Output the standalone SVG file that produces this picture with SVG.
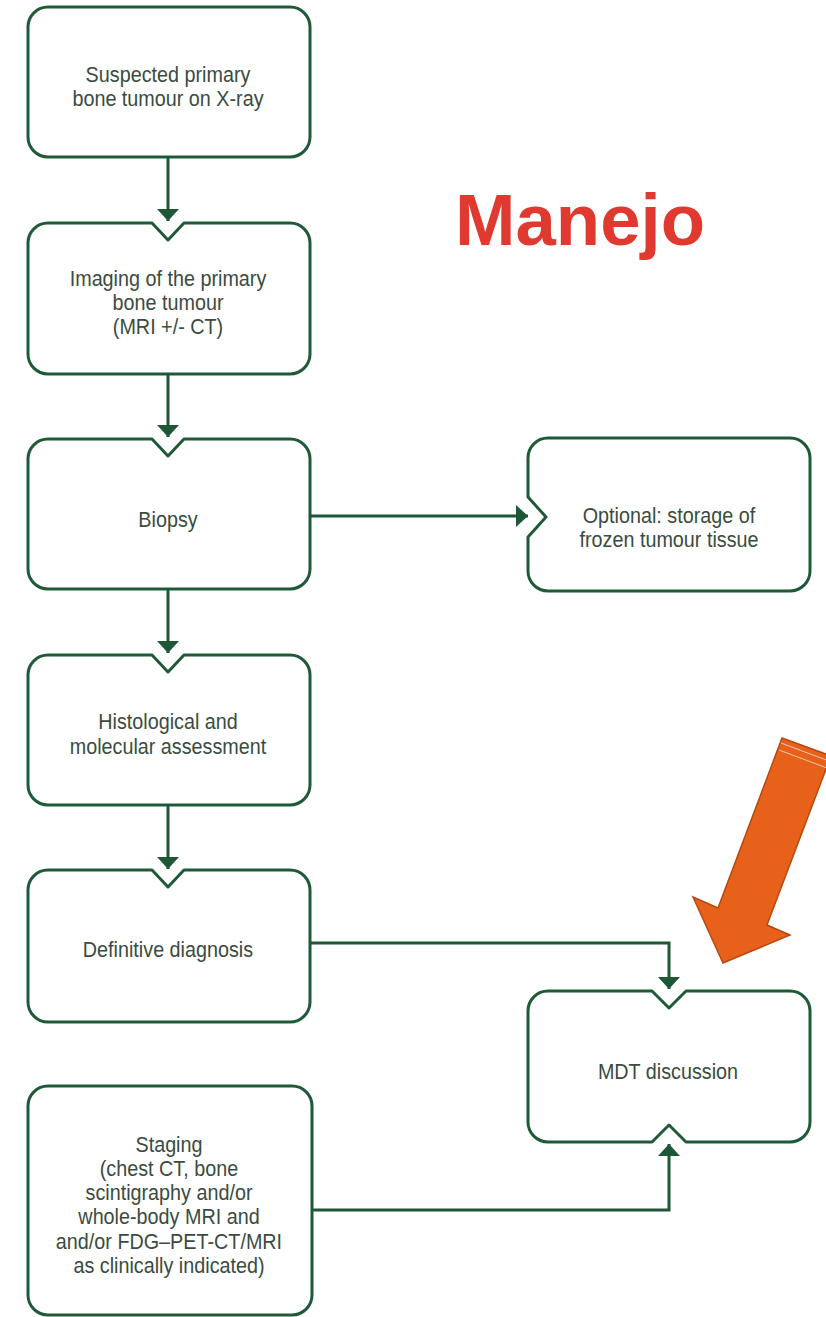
<svg xmlns="http://www.w3.org/2000/svg" width="826" height="1317" viewBox="0 0 826 1317">
<style>
.box{fill:#fff;stroke:#1f5a38;stroke-width:3;stroke-linejoin:round}
.t{font-family:"Liberation Sans",Arial,sans-serif;font-size:21.5px;fill:#3a4b42;text-anchor:middle}
.c{fill:none;stroke:#1d5735;stroke-width:3}
</style>
<defs>
<marker id="ah" viewBox="0 0 12 22" refX="12" refY="11" markerWidth="12" markerHeight="22" markerUnits="userSpaceOnUse" orient="auto">
<path d="M0,0 L12,11 L0,22 Z" fill="#1d5735"/>
</marker>
</defs>
<rect width="826" height="1317" fill="#fff"/>
<g id="n1">
<path class="box" d="M48,7 H290 A20,20 0 0 1 310,27 V137 A20,20 0 0 1 290,157 H48 A20,20 0 0 1 28,137 V27 A20,20 0 0 1 48,7 Z"/>
<g transform="matrix(0.92,0,0,1,13.44,0)">
<text class="t" x="168" y="82">Suspected primary</text>
<text class="t" x="168" y="106">bone tumour on X-ray</text>
</g>
</g>
<g id="n2">
<path class="box" d="M48,223 H152 L168,240 L184,223 H290 A20,20 0 0 1 310,243 V354 A20,20 0 0 1 290,374 H48 A20,20 0 0 1 28,354 V243 A20,20 0 0 1 48,223 Z"/>
<g transform="matrix(0.92,0,0,1,13.44,0)">
<text class="t" x="168" y="286">Imaging of the primary</text>
<text class="t" x="168" y="310">bone tumour</text>
<text class="t" x="168" y="334">(MRI +/- CT)</text>
</g>
</g>
<g id="n3">
<path class="box" d="M48,439 H152 L168,456 L184,439 H290 A20,20 0 0 1 310,459 V569 A20,20 0 0 1 290,589 H48 A20,20 0 0 1 28,569 V459 A20,20 0 0 1 48,439 Z"/>
<g transform="matrix(0.92,0,0,1,13.44,0)">
<text class="t" x="168" y="527">Biopsy</text>
</g>
</g>
<g id="n4">
<path class="box" d="M48,655 H152 L168,672 L184,655 H290 A20,20 0 0 1 310,675 V785 A20,20 0 0 1 290,805 H48 A20,20 0 0 1 28,785 V675 A20,20 0 0 1 48,655 Z"/>
<g transform="matrix(0.92,0,0,1,13.44,0)">
<text class="t" x="168" y="729">Histological and</text>
<text class="t" x="168" y="754">molecular assessment</text>
</g>
</g>
<g id="n5">
<path class="box" d="M48,870 H152 L168,887 L184,870 H290 A20,20 0 0 1 310,890 V1002 A20,20 0 0 1 290,1022 H48 A20,20 0 0 1 28,1002 V890 A20,20 0 0 1 48,870 Z"/>
<g transform="matrix(0.92,0,0,1,13.44,0)">
<text class="t" x="168" y="957">Definitive diagnosis</text>
</g>
</g>
<g id="n6">
<path class="box" d="M48,1086 H292 A20,20 0 0 1 312,1106 V1295 A20,20 0 0 1 292,1315 H48 A20,20 0 0 1 28,1295 V1106 A20,20 0 0 1 48,1086 Z"/>
<g transform="matrix(0.92,0,0,1,13.52,0)">
<text class="t" x="169" y="1152">Staging</text>
<text class="t" x="169" y="1176">(chest CT, bone</text>
<text class="t" x="169" y="1200">scintigraphy and/or</text>
<text class="t" x="169" y="1224">whole-body MRI and</text>
<text class="t" x="169" y="1249">and/or FDG–PET-CT/MRI</text>
<text class="t" x="169" y="1273">as clinically indicated)</text>
</g>
</g>
<g id="n7">
<path class="box" d="M548,438 H790 A20,20 0 0 1 810,458 V571 A20,20 0 0 1 790,591 H548 A20,20 0 0 1 528,571 V537 L546,517 L528,497 V458 A20,20 0 0 1 548,438 Z"/>
<g transform="matrix(0.92,0,0,1,53.52,0)">
<text class="t" x="669" y="523">Optional: storage of</text>
<text class="t" x="669" y="547">frozen tumour tissue</text>
</g>
</g>
<g id="n8">
<path class="box" d="M548,991 H652 L669,1008 L686,991 H790 A20,20 0 0 1 810,1011 V1122 A20,20 0 0 1 790,1142 H686 L669,1125 L652,1142 H548 A20,20 0 0 1 528,1122 V1011 A20,20 0 0 1 548,991 Z"/>
<g transform="matrix(0.92,0,0,1,53.44,0)">
<text class="t" x="668" y="1079">MDT discussion</text>
</g>
</g>
<g id="connectors">
<path class="c" d="M168,157 V221" marker-end="url(#ah)"/>
<path class="c" d="M168,374 V437" marker-end="url(#ah)"/>
<path class="c" d="M168,589 V653" marker-end="url(#ah)"/>
<path class="c" d="M168,805 V869" marker-end="url(#ah)"/>
<path class="c" d="M310,516 H528" marker-end="url(#ah)"/>
<path class="c" d="M310,943 H669 V989" marker-end="url(#ah)"/>
<path class="c" d="M312,1210 H669 V1144" marker-end="url(#ah)"/>
</g>
<g id="title">
<text x="455" y="245" font-family="'Liberation Sans',Arial,sans-serif" font-weight="bold" font-size="72" fill="#e03a30" textLength="250" lengthAdjust="spacingAndGlyphs">Manejo</text>
</g>
<g id="orange-arrow">
<polygon points="782,738 831,756 767,925 790,935 723,963 693,897 718,908" fill="#e8611a" stroke="#b54a10" stroke-width="1.5" stroke-linejoin="miter"/>
<path d="M781,743 L829,761 M779,750 L827,768" stroke="#f3c6a8" stroke-width="1" fill="none"/>
</g>
</svg>
